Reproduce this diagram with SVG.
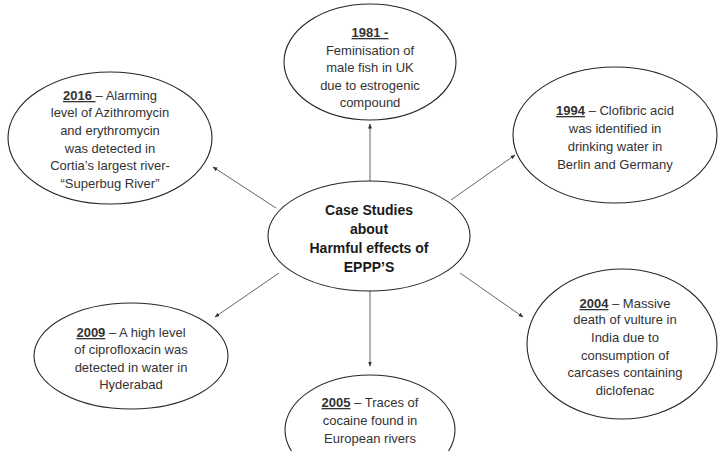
<svg xmlns="http://www.w3.org/2000/svg" width="718" height="451" viewBox="0 0 718 451">
<defs>
<marker id="ah" viewBox="0 0 10 10" refX="9" refY="5" markerWidth="5" markerHeight="5" orient="auto" markerUnits="userSpaceOnUse">
<path d="M0,1 L10,5 L0,9 Z" fill="#333"/>
</marker>
<style>
.el{fill:#fff;stroke:#262626;stroke-width:1.1}
.t{font-family:"Liberation Sans",Arial,sans-serif;font-size:13px;fill:#333;text-anchor:middle}
.b{font-weight:bold;text-decoration:underline}
.c{font-family:"Liberation Sans",Arial,sans-serif;font-size:14px;font-weight:bold;fill:#1a1a1a;text-anchor:middle}
.cn line{stroke:#666;stroke-width:1;marker-end:url(#ah)}
</style>
</defs>
<rect width="718" height="451" fill="#fff"/>
<g class="cn" id="connectors">
<line x1="370" y1="181" x2="370" y2="124"/>
<line x1="276" y1="208" x2="213" y2="167"/>
<line x1="451" y1="200" x2="515" y2="155"/>
<line x1="279" y1="273" x2="215" y2="317"/>
<line x1="370" y1="291" x2="370" y2="366"/>
<line x1="460" y1="273" x2="523" y2="317"/>
</g>
<g id="center">
<ellipse class="el" cx="369" cy="236" rx="101" ry="55"/>
<text class="c" x="369" y="215">Case Studies</text>
<text class="c" x="369" y="234">about</text>
<text class="c" x="369" y="253">Harmful effects of</text>
<text class="c" x="369" y="272">EPPP’S</text>
</g>
<g id="n1981">
<ellipse class="el" cx="370" cy="62" rx="86" ry="58"/>
<text class="t" x="370" y="37"><tspan class="b">1981 -</tspan></text>
<text class="t" x="370" y="55">Feminisation of</text>
<text class="t" x="370" y="72">male fish in UK</text>
<text class="t" x="370" y="90">due to estrogenic</text>
<text class="t" x="370" y="107">compound</text>
</g>
<g id="n2016">
<ellipse class="el" cx="110" cy="138" rx="102" ry="66"/>
<text class="t" x="110" y="100"><tspan class="b">2016 </tspan>– Alarming</text>
<text class="t" x="110" y="117">level of Azithromycin</text>
<text class="t" x="110" y="135">and erythromycin</text>
<text class="t" x="110" y="153">was detected in</text>
<text class="t" x="110" y="170">Cortia’s largest river-</text>
<text class="t" x="110" y="188">“Superbug River”</text>
</g>
<g id="n1994">
<ellipse class="el" cx="615" cy="135" rx="102" ry="68"/>
<text class="t" x="615" y="115"><tspan class="b">1994</tspan> – Clofibric acid</text>
<text class="t" x="615" y="133">was identified in</text>
<text class="t" x="615" y="151">drinking water in</text>
<text class="t" x="615" y="169">Berlin and Germany</text>
</g>
<g id="n2009">
<ellipse class="el" cx="131" cy="356" rx="97" ry="53"/>
<text class="t" x="131" y="337"><tspan class="b">2009</tspan> – A high level</text>
<text class="t" x="131" y="354">of ciprofloxacin was</text>
<text class="t" x="131" y="372">detected in water in</text>
<text class="t" x="131" y="389">Hyderabad</text>
</g>
<g id="n2005">
<ellipse class="el" cx="370" cy="430" rx="85" ry="55"/>
<text class="t" x="370" y="407"><tspan class="b">2005</tspan> – Traces of</text>
<text class="t" x="370" y="425">cocaine found in</text>
<text class="t" x="370" y="443">European rivers</text>
</g>
<g id="n2004">
<ellipse class="el" cx="622" cy="344" rx="95" ry="75"/>
<text class="t" x="625" y="308"><tspan class="b">2004</tspan> – Massive</text>
<text class="t" x="625" y="324">death of vulture in</text>
<text class="t" x="625" y="342">India due to</text>
<text class="t" x="625" y="360">consumption of</text>
<text class="t" x="625" y="377">carcases containing</text>
<text class="t" x="625" y="395">diclofenac</text>
</g>
</svg>
